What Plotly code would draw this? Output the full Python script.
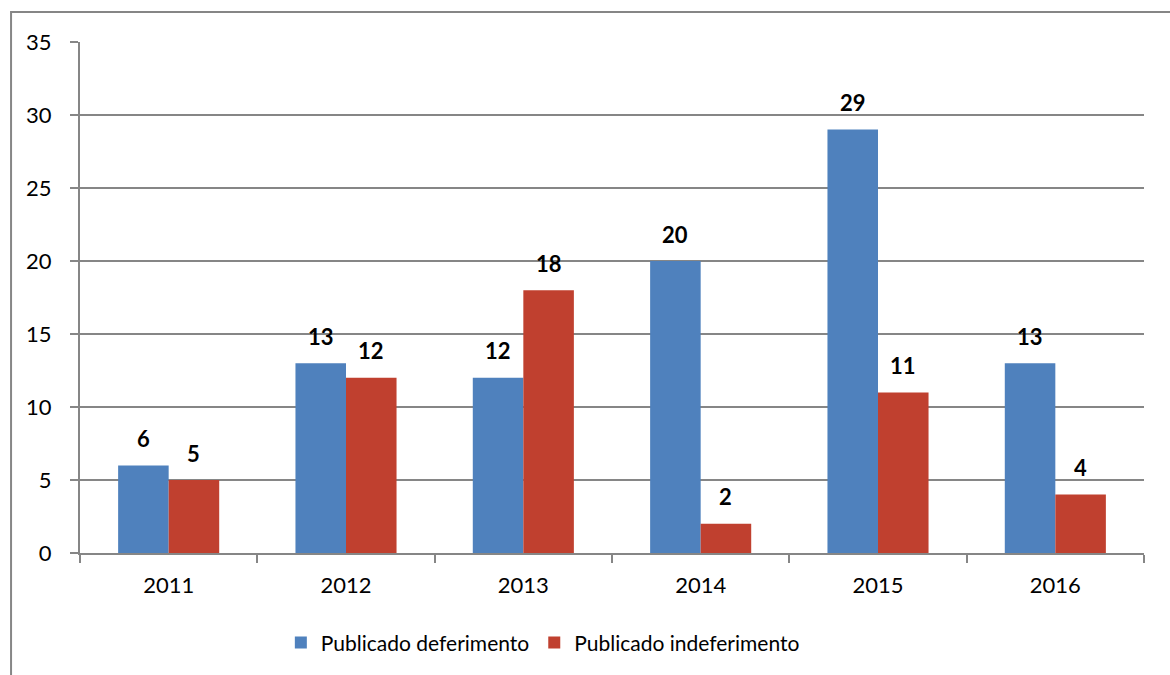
import plotly.graph_objects as go

years = ["2011", "2012", "2013", "2014", "2015", "2016"]
deferimento = [6, 13, 12, 20, 29, 13]
indeferimento = [5, 12, 18, 2, 11, 4]
series_names = ["Publicado deferimento", "Publicado indeferimento"]
colors = ["#4F81BD", "#C0402F"]

FONT = "Lato"
GRID = "#868686"

fig = go.Figure()
series = [deferimento, indeferimento]
for name, vals, col in zip(series_names, series, colors):
    fig.add_trace(go.Bar(
        x=years, y=vals, name=name, marker=dict(color=col, line=dict(width=0)),
    ))

# data labels above bars (x given as category index)
offsets = [-25.3, 25.3]
for vals, dx in zip(series, offsets):
    for i, v in enumerate(vals):
        fig.add_annotation(x=i, y=v, text=f"<b>{v}</b>", showarrow=False,
                           xshift=dx, yshift=27, yanchor="middle", xanchor="center",
                           font=dict(family=FONT, size=22, color="black"))

fig.update_layout(
    width=1170, height=675,
    margin=dict(l=80, r=26, t=42, b=122),
    paper_bgcolor="white", plot_bgcolor="white",
    barmode="group", bargap=0.43, bargroupgap=0,
    font=dict(family=FONT, size=22, color="black"),
    showlegend=True,
    legend=dict(orientation="h", x=0.435, xanchor="center", y=-0.176, yanchor="middle",
                font=dict(family=FONT, size=21), itemwidth=30, tracegroupgap=0),
    xaxis=dict(type="category", range=[-0.5, len(years) - 0.5],
               showline=True, linecolor=GRID, linewidth=2, ticks="outside",
               tickson="boundaries", ticklen=8, tickcolor=GRID, tickwidth=2,
               showgrid=False, tickfont=dict(family=FONT, size=22),
               ticklabelstandoff=12, tickangle=0),
    yaxis=dict(range=[0, 35], dtick=5, showline=True, linecolor=GRID, linewidth=2,
               ticks="outside", ticklen=8, tickcolor=GRID, tickwidth=2,
               showgrid=True, gridcolor=GRID, gridwidth=2, zeroline=False,
               tickfont=dict(family=FONT, size=22), ticklabelstandoff=14),
)

fig.add_shape(type="rect", xref="paper", yref="paper",
              x0=-0.0648, y0=-0.4, x1=1.1, y1=1.0587,
              line=dict(color=GRID, width=2), fillcolor="rgba(0,0,0,0)", layer="below")

fig.write_html("out.html")
